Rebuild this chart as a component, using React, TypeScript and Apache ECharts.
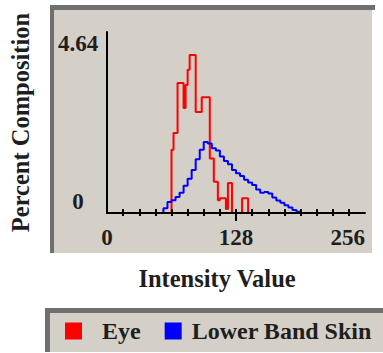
import React, { useEffect, useRef } from "react";
import * as echarts from "echarts";

const seriesNames = ["Eye", "Lower Band Skin"];
const xTickLabels = [0, 128, 256];
const xMinorTicks = [16, 32, 48, 64, 80, 96, 112, 128, 144, 160, 176, 192, 208, 224, 240];
const yMax = 4.64;

// Eye histogram (bin start intensity -> percent composition)
const eyeIntensity = [62, 64, 66, 70, 76, 78, 80, 82, 88, 94, 102, 106, 110, 112, 118, 120, 124, 134, 140];
const eyePercent = [0, 1.62, 2.05, 3.33, 2.69, 3.28, 3.67, 4.05, 2.59, 2.97, 1.4, 0.8, 0.33, 0.38, 0.1, 0.77, 0, 0.38, 0];

// Lower band skin histogram
const skinIntensity = [52, 56, 60, 64, 68, 72, 76, 80, 84, 88, 92, 96, 100, 104, 108, 112, 116, 120, 124, 128, 132, 136, 140, 144, 148, 152, 156, 160, 164, 168, 172, 176, 180, 184, 188, 192];
const skinPercent = [0, 0.12, 0.28, 0.33, 0.41, 0.52, 0.7, 0.88, 1.1, 1.38, 1.62, 1.82, 1.78, 1.66, 1.6, 1.45, 1.33, 1.25, 1.1, 1.02, 0.95, 0.85, 0.78, 0.72, 0.6, 0.52, 0.54, 0.5, 0.4, 0.32, 0.26, 0.2, 0.14, 0.08, 0.03, 0];

const FONT = "'Liberation Serif', 'Times New Roman', serif";
const TXT = "#1e1e1e";
const PANEL = "#d4d0c8";
const BORDER = "#6f6f6f";

export default function App() {
  const ref = useRef<HTMLDivElement>(null);
  useEffect(() => {
    if (!ref.current) return;
    const chart = echarts.init(ref.current, null, { renderer: "svg" });
    const baseX = {
      type: "value",
      position: "bottom",
      offset: 0,
      min: 0,
      max: 256,
      interval: 16,
      splitLine: { show: false },
      z: 10,
    };
    const legendFont = { fontFamily: FONT, fontWeight: "bold", fontSize: 24, color: TXT };
    chart.setOption({
      animation: false,
      backgroundColor: "#ffffff",
      graphic: [
        { type: "rect", z: -1, shape: { x: 50, y: 5, width: 322, height: 248 }, style: { fill: PANEL } },
        { type: "rect", z: -1, shape: { x: 50, y: 5, width: 325, height: 5 }, style: { fill: BORDER } },
        { type: "rect", z: -1, shape: { x: 50, y: 5, width: 4, height: 248 }, style: { fill: BORDER } },
        { type: "rect", z: -1, shape: { x: 45, y: 308, width: 345, height: 44 }, style: { fill: PANEL } },
        { type: "rect", z: -1, shape: { x: 45, y: 308, width: 345, height: 5 }, style: { fill: BORDER } },
        { type: "rect", z: -1, shape: { x: 45, y: 308, width: 5, height: 44 }, style: { fill: BORDER } },
      ],
      grid: { left: 107, top: 32, width: 258, height: 181 },
      legend: {
        data: seriesNames,
        left: 65,
        top: 319,
        padding: 0,
        icon: "rect",
        itemWidth: 17,
        itemHeight: 17,
        itemGap: 24,
        formatter: (name: string) => (name === seriesNames[0] ? `{a|${name}}` : `{b|${name}}`),
        textStyle: {
          ...legendFont,
          rich: {
            a: { ...legendFont, padding: [0, 0, 0, 15] },
            b: { ...legendFont, padding: [0, 0, 0, 5] },
          },
        },
      },
      xAxis: [
        {
          ...baseX,
          name: "Intensity Value",
          nameLocation: "middle",
          nameGap: 53,
          nameTextStyle: { fontFamily: FONT, fontWeight: "bold", fontSize: 24.5, color: TXT, padding: [0, 38, 0, 0] },
          axisLine: { lineStyle: { color: "#000", width: 2 } },
          axisTick: { show: true, inside: true, length: 4, customValues: xMinorTicks, lineStyle: { color: "#000", width: 2 } },
          axisLabel: {
            customValues: xTickLabels,
            margin: 13,
            alignMaxLabel: "right",
            fontFamily: FONT,
            fontWeight: "bold",
            fontSize: 23,
            color: TXT,
          },
        },
        {
          ...baseX,
          axisLine: { show: false },
          axisTick: { show: true, length: 3, customValues: xMinorTicks, lineStyle: { color: "#000", width: 2 } },
          axisLabel: { show: false },
        },
        {
          ...baseX,
          axisLine: { show: false },
          axisTick: { show: true, length: 8, customValues: [128], lineStyle: { color: "#000", width: 2 } },
          axisLabel: { show: false },
        },
      ],
      yAxis: {
        type: "value",
        min: 0,
        max: yMax,
        interval: yMax,
        z: 10,
        name: "Percent Composition",
        nameLocation: "middle",
        nameRotate: 90,
        nameGap: 74,
        nameTextStyle: { fontFamily: FONT, fontWeight: "bold", fontSize: 24.5, color: TXT },
        splitLine: { show: false },
        axisTick: { show: false },
        axisLine: { lineStyle: { color: "#000", width: 2 } },
        axisLabel: {
          align: "center",
          margin: 29,
          verticalAlignMinLabel: "bottom",
          verticalAlignMaxLabel: "top",
          fontFamily: FONT,
          fontWeight: "bold",
          fontSize: 23,
          color: TXT,
          formatter: (v: number) => (v === 0 ? "0" : v.toFixed(2)),
        },
      },
      series: [
        {
          name: seriesNames[0],
          type: "line",
          step: "end",
          symbol: "none",
          color: "#ff0000",
          lineStyle: { color: "#ff0000", width: 2 },
          data: eyeIntensity.map((x, i) => [x, eyePercent[i]]),
        },
        {
          name: seriesNames[1],
          type: "line",
          step: "end",
          symbol: "none",
          color: "#0000ff",
          lineStyle: { color: "#0000ff", width: 2 },
          data: skinIntensity.map((x, i) => [x, skinPercent[i]]),
        },
      ],
    });
    return () => chart.dispose();
  }, []);
  return (
    <div
      ref={ref}
      style={{ position: "fixed", left: 0, top: 0, width: 383, height: 353 }}
    />
  );
}
